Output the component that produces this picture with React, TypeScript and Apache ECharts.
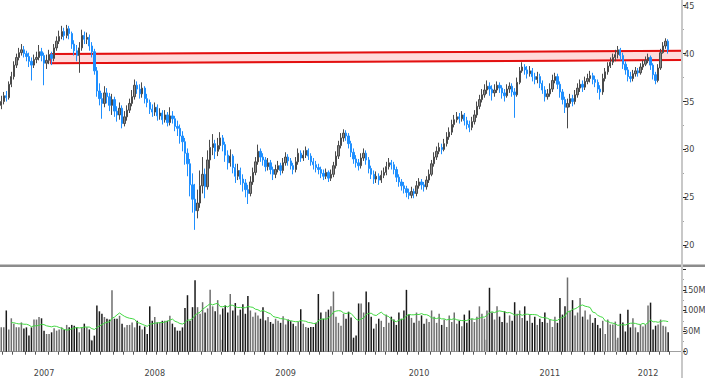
import React, { useEffect, useRef } from "react";
import * as echarts from "echarts";

// weekly bars: [open, high, low, close]
const ohlc: number[][] = [
[34.6,35.6,34.2,35.0],[35.0,36.0,34.7,35.6],[35.6,36.1,35.0,35.4],[35.4,37.1,35.2,36.8],[36.8,38.1,36.5,37.6],
[37.6,39.2,37.3,38.8],[38.8,40.0,38.5,39.6],[39.6,40.6,39.3,40.1],[40.1,41.0,39.8,40.4],[40.4,40.8,39.6,40.0],
[40.0,40.3,39.2,39.7],[39.7,40.1,38.6,39.2],[39.2,39.6,37.2,38.8],[38.8,39.9,38.5,39.4],[39.4,40.2,39.0,39.6],
[39.6,40.9,39.3,40.2],[40.2,40.6,39.2,39.8],[39.8,40.1,36.7,39.0],[39.0,39.9,38.4,39.3],[39.3,40.4,38.9,39.9],
[39.9,40.2,38.8,39.5],[39.5,41.0,39.2,40.6],[40.6,41.8,40.3,41.3],[41.3,42.4,41.0,41.8],[41.8,42.9,41.5,42.3],
[42.3,42.7,41.4,41.9],[41.9,43.0,41.6,42.6],[42.6,42.9,41.5,42.1],[42.1,42.3,40.5,41.0],[41.0,41.4,39.8,40.3],
[40.3,40.9,39.2,39.8],[39.8,41.2,38.0,40.6],[40.6,42.5,40.3,41.9],[41.9,42.3,41.0,41.5],[41.5,42.2,41.0,41.7],
[41.7,42.0,40.3,40.8],[40.8,41.2,39.6,40.2],[40.2,40.5,37.8,38.2],[38.2,38.6,35.5,36.1],[36.1,36.9,34.6,35.3],
[35.3,35.9,33.2,34.8],[34.8,36.6,34.4,35.9],[35.9,36.4,34.8,35.5],[35.5,35.9,34.0,34.6],[34.6,35.8,33.6,35.2],
[35.2,35.5,33.4,34.0],[34.0,34.5,32.9,33.6],[33.6,34.9,33.1,34.3],[34.3,34.6,32.2,32.7],[32.7,34.0,32.4,33.4],
[33.4,34.6,33.0,34.1],[34.1,35.3,33.8,34.8],[34.8,36.2,34.5,35.5],[35.5,37.3,35.2,36.7],[36.7,37.1,35.8,36.3],
[36.3,36.8,35.3,35.8],[35.8,37.0,35.4,36.4],[36.4,36.6,34.8,35.3],[35.3,35.8,34.4,34.9],[34.9,35.2,33.7,34.2],
[34.2,34.7,33.4,33.9],[33.9,34.9,33.5,34.4],[34.4,34.7,33.0,33.5],[33.5,34.3,33.1,33.8],[33.8,34.1,32.6,33.1],
[33.1,34.1,32.8,33.6],[33.6,33.9,32.4,32.8],[32.8,34.4,32.5,33.5],[33.5,34.0,32.7,33.2],[33.2,33.5,31.9,32.4],
[32.4,33.0,31.4,32.2],[32.2,32.6,30.6,31.4],[31.4,31.9,29.8,30.8],[30.8,31.2,28.4,29.6],[29.6,30.1,27.2,28.5],
[28.5,29.0,25.1,26.3],[26.3,27.5,23.4,24.8],[24.8,26.4,21.6,23.6],[23.6,25.8,22.8,24.4],[24.4,27.8,23.9,26.2],
[26.2,29.2,25.4,27.4],[27.4,28.0,24.9,26.1],[26.1,29.9,25.8,28.9],[28.9,31.0,28.0,30.2],[30.2,31.6,29.4,30.6],
[30.6,31.0,29.0,29.8],[29.8,31.2,29.3,30.4],[30.4,31.8,30.0,31.2],[31.2,31.5,29.8,30.5],[30.5,30.8,28.7,29.4],
[29.4,29.9,27.9,28.6],[28.6,30.0,28.2,29.3],[29.3,29.5,27.5,28.1],[28.1,28.5,26.5,27.2],[27.2,28.5,26.8,27.8],
[27.8,28.1,26.3,26.9],[26.9,27.4,25.6,26.5],[26.5,26.9,25.0,25.8],[25.8,26.3,24.3,25.4],[25.4,27.2,25.1,26.6],
[26.6,28.1,26.3,27.6],[27.6,29.2,27.3,28.7],[28.7,30.5,28.4,29.8],[29.8,30.1,28.7,29.2],[29.2,29.6,28.3,28.9],
[28.9,29.2,27.7,28.2],[28.2,29.1,27.8,28.6],[28.6,28.9,27.4,27.9],[27.9,28.2,26.8,27.4],[27.4,28.4,27.0,27.9],
[27.9,28.8,27.6,28.3],[28.3,28.6,27.3,27.8],[27.8,29.1,27.5,28.6],[28.6,29.7,28.3,29.2],[29.2,29.5,28.3,28.8],
[28.8,29.1,27.9,28.3],[28.3,28.6,27.4,27.9],[27.9,29.2,27.6,28.7],[28.7,30.1,28.4,29.6],[29.6,29.9,28.7,29.1],
[29.1,29.9,28.8,29.4],[29.4,30.3,29.1,29.9],[29.9,30.1,28.9,29.3],[29.3,29.6,28.3,28.7],[28.7,29.1,27.9,28.4],
[28.4,28.8,27.6,28.1],[28.1,28.5,27.4,27.9],[27.9,28.2,27.0,27.5],[27.5,27.9,26.8,27.2],[27.2,28.0,26.9,27.6],
[27.6,27.8,26.6,27.0],[27.0,27.9,26.7,27.4],[27.4,28.7,27.1,28.3],[28.3,29.8,28.0,29.3],[29.3,30.9,29.0,30.4],
[30.4,31.7,30.1,31.2],[31.2,32.1,30.8,31.7],[31.7,32.0,30.9,31.4],[31.4,31.7,30.1,30.6],[30.6,30.9,29.2,29.7],
[29.7,30.1,28.5,29.0],[29.0,29.4,28.1,28.6],[28.6,29.0,27.8,28.3],[28.3,29.6,28.0,29.1],[29.1,30.1,28.8,29.6],
[29.6,29.9,28.4,28.9],[28.9,29.2,27.5,28.0],[28.0,28.3,26.9,27.4],[27.4,27.8,26.4,26.9],[26.9,27.7,26.5,27.2],
[27.2,27.5,26.3,26.8],[26.8,27.8,26.5,27.3],[27.3,28.1,27.0,27.6],[27.6,28.7,27.3,28.2],[28.2,29.1,27.9,28.6],
[28.6,28.9,27.9,28.4],[28.4,28.7,27.4,27.9],[27.9,28.2,26.6,27.1],[27.1,27.4,26.1,26.6],[26.6,26.9,25.7,26.2],
[26.2,26.6,25.4,25.9],[25.9,26.2,25.0,25.5],[25.5,25.9,24.8,25.2],[25.2,26.1,24.9,25.6],[25.6,25.9,24.9,25.4],
[25.4,26.7,25.1,26.2],[26.2,27.0,25.9,26.6],[26.6,26.9,25.8,26.3],[26.3,26.6,25.6,26.1],[26.1,27.2,25.8,26.8],
[26.8,27.9,26.5,27.4],[27.4,28.9,27.2,28.5],[28.5,29.7,28.2,29.2],[29.2,30.3,28.9,29.8],[29.8,30.7,29.5,30.2],
[30.2,30.6,29.5,30.0],[30.0,31.1,29.8,30.6],[30.6,31.8,30.3,31.3],[31.3,32.3,31.0,31.8],[31.8,33.1,31.5,32.6],
[32.6,33.6,32.3,33.1],[33.1,33.9,32.8,33.4],[33.4,33.8,32.7,33.2],[33.2,34.0,32.9,33.6],[33.6,33.8,32.5,33.0],
[33.0,33.4,32.1,32.6],[32.6,33.0,31.8,32.3],[32.3,33.4,32.0,32.9],[32.9,34.1,32.6,33.6],[33.6,35.0,33.3,34.5],
[34.5,35.7,34.2,35.2],[35.2,36.3,34.9,35.7],[35.7,36.8,35.4,36.2],[36.2,37.2,35.8,36.6],[36.6,37.0,35.6,36.3],
[36.3,36.7,35.1,35.9],[35.9,36.8,35.5,36.2],[36.2,37.1,35.9,36.7],[36.7,37.0,35.9,36.4],[36.4,36.7,35.3,35.9],
[35.9,36.3,35.0,35.6],[35.6,36.8,35.4,36.3],[36.3,37.0,35.9,36.6],[36.6,36.9,35.5,36.0],[36.0,36.4,33.3,35.7],
[35.7,37.5,35.5,37.0],[37.0,38.6,36.8,38.2],[38.2,39.1,38.0,38.6],[38.6,38.9,37.8,38.3],[38.3,38.7,37.4,37.9],
[37.9,38.7,37.6,38.2],[38.2,38.5,37.1,37.6],[37.6,38.0,36.8,37.3],[37.3,38.1,36.9,37.6],[37.6,37.9,36.4,36.9],
[36.9,37.2,35.8,36.2],[36.2,36.6,35.0,35.5],[35.5,36.3,35.2,35.8],[35.8,36.9,35.5,36.3],[36.3,37.8,36.0,37.2],
[37.2,38.0,36.9,37.6],[37.6,37.9,36.3,36.8],[36.8,37.1,35.4,36.0],[36.0,36.3,34.7,35.2],[35.2,35.5,33.8,34.4],
[34.4,35.3,32.2,34.8],[34.8,35.8,34.4,35.3],[35.3,35.7,34.5,35.0],[35.0,36.2,34.7,35.7],[35.7,36.9,35.4,36.4],
[36.4,37.3,36.0,36.8],[36.8,37.2,36.0,36.5],[36.5,37.6,36.2,37.1],[37.1,37.9,36.8,37.4],[37.4,38.2,37.0,37.7],
[37.7,38.0,36.8,37.3],[37.3,37.7,36.5,37.0],[37.0,37.3,35.9,36.3],[36.3,36.7,35.2,36.0],[36.0,37.9,35.7,37.4],
[37.4,38.5,37.1,38.1],[38.1,39.1,37.8,38.7],[38.7,39.6,38.5,39.1],[39.1,40.0,38.8,39.6],[39.6,40.4,39.2,39.9],
[39.9,40.8,39.5,40.4],[40.4,40.6,39.3,39.8],[39.8,40.1,38.4,38.9],[38.9,39.2,37.8,38.3],[38.3,38.6,37.1,37.6],
[37.6,38.1,37.0,37.4],[37.4,38.3,37.1,37.9],[37.9,38.6,37.6,38.2],[38.2,38.5,37.6,38.0],[38.0,39.0,37.8,38.6],
[38.6,39.3,38.3,38.9],[38.9,39.7,38.7,39.3],[39.3,40.0,39.0,39.6],[39.6,39.8,38.3,38.8],[38.8,39.0,37.3,37.8],
[37.8,38.1,36.8,37.2],[37.2,38.9,37.0,38.5],[38.5,40.5,38.3,40.1],[40.1,41.2,40.0,40.8],[40.8,41.6,40.5,41.3],
[41.3,41.5,40.0,40.4]
];

// weekly volume, millions
const volume: number[] = [
59,59,100,54,81,68,59,59,71,56,59,39,59,78,78,84,81,51,43,43,
47,57,51,54,59,54,65,59,65,63,59,47,59,68,59,54,27,39,112,98,
92,84,80,78,149,80,80,87,68,59,65,65,71,59,75,63,54,61,43,110,
75,84,71,71,75,75,75,87,68,59,51,51,59,106,137,75,108,173,108,92,
120,95,105,150,110,98,125,90,105,112,95,140,100,118,88,102,115,92,135,100,
85,95,88,80,108,76,84,72,68,80,75,70,86,66,78,74,68,62,72,
103,68,60,58,60,60,70,140,95,80,97,102,110,146,85,70,63,92,80,97,
83,34,39,117,117,95,146,120,85,56,68,80,
75,60,90,70,85,78,65,95,80,100,150,90,82,70,95,75,88,68,80,72,
100,85,70,92,65,78,60,88,72,95,68,75,62,90,70,100,80,72,85,110,
92,80,100,155,95,78,110,85,72,98,70,88,75,120,92,100,82,110,75,90,
70,85,65,80,72,95,70,78,60,85,70,130,90,110,180,100,125,88,95,130,
85,100,78,90,70,82,65,
57,75,43,78,66,66,73,34,92,71,49,102,59,81,59,47,66,61,66,112,
119,54,63,66,78,63,61,47
];

// resistance band (week index where it starts, prices at left and right ends)
const bandStart = 20;
const bandTopLeft = 39.95;
const bandBottomLeft = 39.0;
const bandTopRight = 40.3;
const bandBottomRight = 39.33;

const priceTicks = [20, 25, 30, 35, 40, 45];
const priceMinorTicks = [22.5, 27.5, 32.5, 37.5, 42.5];
const volumeTicks = [0, 50, 100, 150, 200];
const volumeLabels = [0, 50, 100, 150];
const volumeMinorTicks = [25, 75, 125, 175];

const START_MS = Date.UTC(2007, 3, 27);
const N_CAT = 271;

const FONT = "'DejaVu Sans Condensed', 'DejaVu Sans', sans-serif";
const NARROW = "'Liberation Sans Narrow', 'DejaVu Sans Condensed', sans-serif";

export default function App() {
  const ref = useRef<HTMLDivElement>(null);
  useEffect(() => {
    document.body.style.margin = "0";
    if (!ref.current) return;
    const chart = echarts.init(ref.current, undefined, { renderer: "svg" });

    const dates = Array.from({ length: N_CAT }, (_, i) => new Date(START_MS + i * 7 * 86400000));
    const cats = dates.map(
      (d) =>
        `${d.getUTCFullYear()}-${String(d.getUTCMonth() + 1).padStart(2, "0")}-${String(d.getUTCDate()).padStart(2, "0")}`
    );
    const monthStart = new Set<number>();
    const yearStart = new Set<number>();
    dates.forEach((d, i) => {
      if (i === 0) return;
      if (d.getUTCMonth() !== dates[i - 1].getUTCMonth()) monthStart.add(i);
      if (d.getUTCFullYear() !== dates[i - 1].getUTCFullYear()) yearStart.add(i);
    });
    const yearSpan: Record<number, [number, number]> = {};
    dates.forEach((d, i) => {
      const y = d.getUTCFullYear();
      if (!yearSpan[y]) yearSpan[y] = [i, i];
      yearSpan[y][1] = i;
    });
    const yearLabelIdx = new Set<number>(
      Object.values(yearSpan).map(([a, b]) => Math.floor((a + b) / 2))
    );

    const candleData = ohlc.map(([o, h, l, c]) => [o, c, l, h]);
    const volData = volume.map((v, i) => {
      const r = ohlc[i];
      const up = r ? r[3] >= r[0] : true;
      return { value: v, itemStyle: { color: up ? "#6e6e6e" : "#1a1a1a" } };
    });
    const ma = volume.map((_, i) => {
      if (i < 4) return null;
      const s = Math.max(0, i - 9);
      const w = volume.slice(s, i + 1);
      return +(w.reduce((a, b) => a + b, 0) / w.length).toFixed(1);
    });

    const labelStyle = { fontSize: 9, color: "#444", fontFamily: FONT };

    chart.setOption({
      animation: false,
      grid: [
        { left: 0, right: 23, top: 0, height: 265, outerBoundsMode: "none" },
        { left: 0, right: 23, top: 268, height: 83.7, outerBoundsMode: "none" },
      ],
      xAxis: [
        { type: "category", data: cats, gridIndex: 0, show: false, boundaryGap: true },
        {
          type: "category",
          data: cats,
          gridIndex: 1,
          boundaryGap: true,
          offset: 5.5,
          axisLine: { show: true, lineStyle: { color: "#a0a0a0", width: 1 } },
          axisTick: {
            show: true,
            length: 3,
            lineStyle: { color: "#555" },
            interval: (i: number) => monthStart.has(i),
          },
          axisLabel: {
            ...labelStyle,
            margin: 11,
            interval: (i: number) => yearLabelIdx.has(i),
            formatter: (v: string) => v.slice(0, 4),
          },
          splitLine: { show: false },
        },
        {
          type: "category",
          data: cats,
          gridIndex: 1,
          boundaryGap: true,
          offset: 14.5,
          axisLine: { show: false },
          axisTick: {
            show: true,
            length: 12,
            lineStyle: { color: "#cfcfcf", width: 2 },
            interval: (i: number) => yearStart.has(i),
          },
          axisLabel: { show: false },
        },
      ],
      yAxis: [
        {
          type: "value",
          gridIndex: 0,
          position: "right",
          min: 17.93,
          max: 45.6,
          axisLine: { show: false },
          splitLine: { show: false },
          axisTick: { show: true, length: 4, customValues: priceTicks, lineStyle: { color: "#222" } },
          axisLabel: { ...labelStyle, margin: 2, customValues: priceTicks },
        },
        {
          type: "value",
          gridIndex: 0,
          position: "right",
          min: 17.93,
          max: 45.6,
          axisLine: { show: false },
          splitLine: { show: false },
          axisTick: { show: true, length: 1.5, customValues: priceMinorTicks, lineStyle: { color: "#444" } },
          axisLabel: { show: false },
        },
        {
          type: "value",
          gridIndex: 1,
          position: "right",
          min: 0,
          max: 203,
          axisLine: { show: false },
          splitLine: { show: false },
          axisTick: { show: true, length: 4, customValues: volumeTicks, lineStyle: { color: "#222" } },
          axisLabel: {
            fontSize: 9,
            color: "#444",
            fontFamily: NARROW,
            margin: 1,
            customValues: volumeLabels,
            formatter: (v: number) => (v === 0 ? "0" : `${v}M`),
          },
        },
        {
          type: "value",
          gridIndex: 1,
          position: "right",
          min: 0,
          max: 203,
          axisLine: { show: false },
          splitLine: { show: false },
          axisTick: { show: true, length: 1.5, customValues: volumeMinorTicks, lineStyle: { color: "#444" } },
          axisLabel: { show: false },
        },
      ],
      series: [
        {
          type: "custom",
          xAxisIndex: 0,
          yAxisIndex: 0,
          z: 1,
          silent: true,
          data: [[bandStart, bandTopLeft, bandBottomLeft, bandTopRight, bandBottomRight]],
          encode: { x: 0, y: 1 },
          renderItem: (params: any, api: any) => {
            const cs = params.coordSys;
            const half = api.size([1, 0])[0] / 2;
            const pTL = api.coord([api.value(0), api.value(1)]);
            const pBL = api.coord([api.value(0), api.value(2)]);
            const pTR = api.coord([api.value(0), api.value(3)]);
            const pBR = api.coord([api.value(0), api.value(4)]);
            const xL = pTL[0] - half;
            const xR = cs.x + cs.width;
            return {
              type: "group",
              children: [
                {
                  type: "polygon",
                  shape: { points: [[xL, pTL[1]], [xR, pTR[1]], [xR, pBR[1]], [xL, pBL[1]]] },
                  style: { fill: "rgba(255,40,40,0.17)", stroke: "#e31010", lineWidth: 1 },
                },
                {
                  type: "line",
                  shape: { x1: xL, y1: pTL[1], x2: xR, y2: pTR[1] },
                  style: { stroke: "#e31010", lineWidth: 2 },
                },
                {
                  type: "line",
                  shape: { x1: xL, y1: pBL[1], x2: xR, y2: pBR[1] },
                  style: { stroke: "#e31010", lineWidth: 2 },
                },
              ],
            };
          },
        },
        {
          type: "candlestick",
          xAxisIndex: 0,
          yAxisIndex: 0,
          z: 3,
          barWidth: 1.8,
          data: candleData,
          itemStyle: {
            color: "#8a8a8a",
            color0: "#1e8fff",
            borderColor: "#4a4a4a",
            borderColor0: "#1e8fff",
            borderWidth: 1,
          },
        },
        {
          type: "bar",
          xAxisIndex: 1,
          yAxisIndex: 2,
          barWidth: 1.5,
          data: volData,
        },
        {
          type: "line",
          xAxisIndex: 1,
          yAxisIndex: 2,
          data: ma,
          symbol: "none",
          lineStyle: { color: "#43d843", width: 1 },
          z: 4,
        },
      ],
      graphic: [
        {
          type: "rect",
          shape: { x: 0, y: 264.5, width: 705, height: 2.5 },
          style: { fill: "#8c8c8c" },
          z: 10,
        },
        {
          type: "line",
          shape: { x1: 682, y1: 0, x2: 682, y2: 378 },
          style: { stroke: "#c8c8c8", lineWidth: 2 },
          z: 10,
        },
      ],
    });
    return () => chart.dispose();
  }, []);
  return (
    <div
      ref={ref}
      style={{ position: "absolute", left: 0, top: 0, width: 705, height: 378, background: "#fff" }}
    />
  );
}
